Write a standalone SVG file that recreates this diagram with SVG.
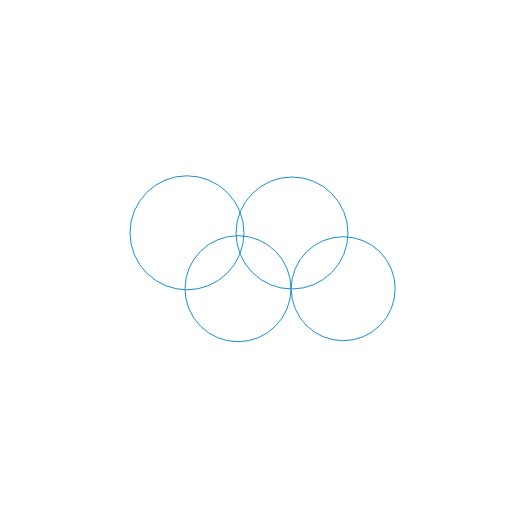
<svg xmlns="http://www.w3.org/2000/svg" width="527" height="527" viewBox="0 0 527 527">
<style>.c{fill:none;stroke:#1a8fd0;stroke-width:1}</style>
<rect width="527" height="527" fill="#fff"/>
<g id="c1"><circle class="c" cx="187" cy="232.8" r="57"/></g>
<g id="c2"><circle class="c" cx="292" cy="233" r="56"/></g>
<g id="c3"><circle class="c" cx="238" cy="288.7" r="53"/></g>
<g id="c4"><circle class="c" cx="343.2" cy="288.7" r="52"/></g>
</svg>
